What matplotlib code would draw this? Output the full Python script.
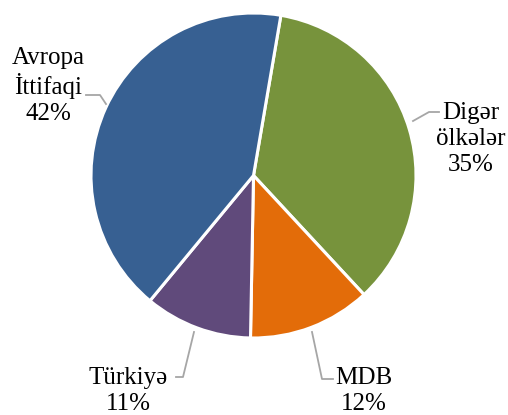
import matplotlib.pyplot as plt

# Ixrac strukturu (payı, %)
labels = ["Digər\nölkələr", "MDB", "Türkiyə", "Avropa\nİttifaqi"]
shares = [35.4, 12.2, 10.7, 41.7]
colors = ["#77933C", "#E36C09", "#604A7B", "#376092"]

W, H = 508, 415
fig = plt.figure(figsize=(W / 100, H / 100), dpi=100)
ax = fig.add_axes([0, 0, 1, 1])

cx, cy, r = 253.5, H - 175.5, 162.5
ax.pie(shares, colors=colors, startangle=80.3, counterclock=False,
       center=(cx, cy), radius=r, frame=True,
       wedgeprops=dict(edgecolor="white", linewidth=2.2))
ax.set_xlim(0, W)
ax.set_ylim(0, H)
ax.set_aspect("equal")
ax.axis("off")

font = dict(family="Liberation Serif", fontsize=18, ha="center", va="center",
            linespacing=1.22)
lc = "#A6A6A6"

def yy(v):
    return H - v

# Avropa İttifaqi
ax.text(48, yy(86), f"{labels[3]}\n{shares[3]:.0f}%", **font)
ax.plot([86, 100, 106], [yy(95), yy(95), yy(104)], color=lc, lw=1.3)

# Digər ölkələr
ax.text(471, yy(139), f"{labels[0]}\n{shares[0]:.0f}%", **font)
ax.plot([413, 429, 439], [yy(121), yy(112), yy(112)], color=lc, lw=1.3)

# Türkiyə
ax.text(128, yy(391), f"{labels[2]}\n{shares[2]:.0f}%", **font)
ax.plot([176, 183, 194], [yy(377), yy(377), yy(332)], color=lc, lw=1.3)

# MDB
ax.text(364, yy(391), f"{labels[1]}\n{shares[1]:.0f}%", **font)
ax.plot([312, 322, 333], [yy(332), yy(379), yy(379)], color=lc, lw=1.3)

fig.savefig("out.png", dpi=100)
